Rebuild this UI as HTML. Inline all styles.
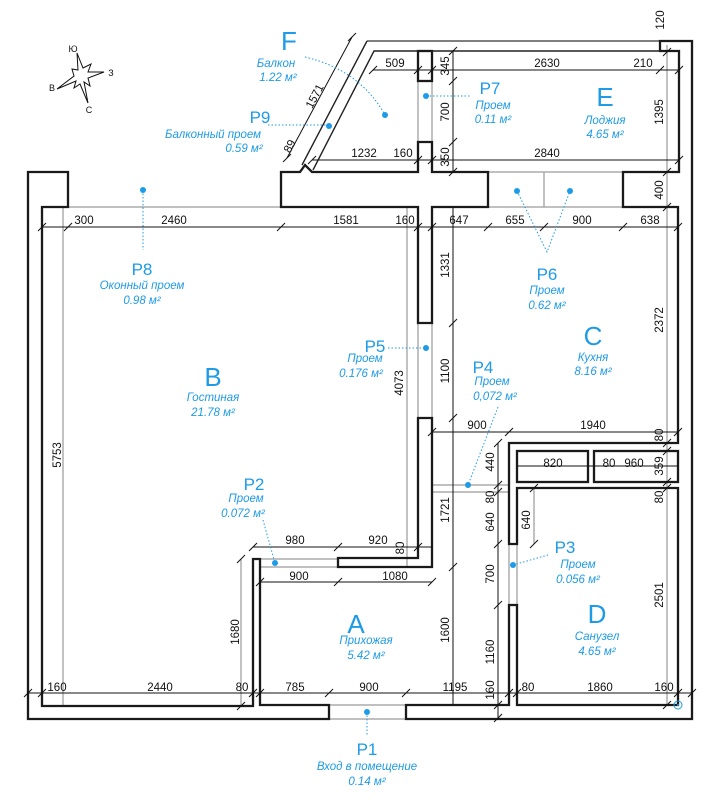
<!DOCTYPE html>
<html><head><meta charset="utf-8"><style>
html,body{margin:0;padding:0;background:#fff;}
svg{display:block;}
.w{fill:none;stroke:#1a1a1a;stroke-width:2.3;stroke-linejoin:miter;}
.g{fill:none;stroke:#9a9a9a;stroke-width:1.2;}
.d{fill:none;stroke:#111;stroke-width:1;}
.dm{font-family:"Liberation Sans",sans-serif;font-size:11.5px;fill:#111;text-anchor:middle;}
.bl{font-family:"Liberation Sans",sans-serif;fill:#1e9be6;text-anchor:middle;}
.big{font-size:26px;}
.p{font-size:17px;}
.it{font-size:11.5px;font-style:italic;}
.dot{fill:#1e9be6;}
.dl{fill:none;stroke:#1e9be6;stroke-width:1;stroke-dasharray:1.5 2;}
</style></head><body>
<svg width="722" height="807" viewBox="0 0 722 807" xmlns="http://www.w3.org/2000/svg">
<defs><path id="t" d="M-4,4 L4,-4" stroke="#111" stroke-width="1"/></defs>

<polygon points="77,53 83,68 91,64 88,72 104,72 88,78 90,86 84,82 88,103 80,84 74,88 76,81 57,89 74,76 72,69 78,70" fill="#fff" stroke="#111" stroke-width="1"/>
<text x="73" y="52" class="dm" style="font-size:9px">Ю</text>
<text x="111" y="76" class="dm" style="font-size:9px">З</text>
<text x="52" y="91" class="dm" style="font-size:9px">В</text>
<text x="89" y="113" class="dm" style="font-size:9px">С</text>

<path class="g" d="M68,207 H281 M488,172 H623 M488,207 H623 M544,172 V207 M418,81 V142 M432,81 V142 M418,323 V418 M432,323 V418 M260,559 H338 M260,567 H338 M329,705 H406 M329,719 H406 M509,544 V605 M517,544 V605 M432,485 H509 M432,492 H509 M667,45 V705 M63,207 V706 M407,207 V567 M241,559 V706 M534,488 V544"/>
<path d="M367,41 H660" stroke="#555" stroke-width="1.4" fill="none"/>

<polygon class="w" points="68,172 28,172 28,719 329,719 329,705 260,705 260,559 253,559 253,706 42,706 42,207 68,207"/>
<polygon class="w" points="406,719 406,705 509,705 509,605 517,605 517,705 678,705 678,488 517,488 517,544 509,544 509,443 678,443 678,207 623,207 623,172 679,172 679,51 660,51 660,41 692,41 692,719"/>
<polygon class="w" points="281,207 281,172 300,172 305,165 312,172 418,172 418,142 432,142 432,172 488,172 488,207 432,207 432,323 418,323 418,207"/>
<rect class="w" x="418" y="51" width="14" height="30"/>
<polygon class="w" points="418,418 432,418 432,567 338,567 338,558 418,558"/>
<rect class="w" x="517" y="451" width="71" height="31"/>
<rect class="w" x="594" y="451" width="84" height="31"/>
<path d="M302,165 L367,41 M313,170 L374,51 H418 M432,51 H660" stroke="#222" stroke-width="1.4" fill="none"/>

<path class="d" d="M42,227 H678 M373,70 H679 M312,160 H679 M453,51 V172 M453,207 V705 M287,158 L352,37 M253,547 H432 M260,582 H432 M28,693 H692 M498,443 V718 M432,432 H678 M517,466 H678"/>
<g>
<use href="#t" x="42" y="227"/><use href="#t" x="68" y="227"/><use href="#t" x="281" y="227"/><use href="#t" x="418" y="227"/><use href="#t" x="432" y="227"/><use href="#t" x="488" y="227"/><use href="#t" x="544" y="227"/><use href="#t" x="623" y="227"/><use href="#t" x="678" y="227"/>
<use href="#t" x="373" y="70"/><use href="#t" x="418" y="70"/><use href="#t" x="432" y="70"/><use href="#t" x="660" y="70"/><use href="#t" x="679" y="70"/>
<use href="#t" x="312" y="160"/><use href="#t" x="418" y="160"/><use href="#t" x="432" y="160"/><use href="#t" x="679" y="160"/>
<use href="#t" x="453" y="51"/><use href="#t" x="453" y="81"/><use href="#t" x="453" y="142"/><use href="#t" x="453" y="172"/>
<use href="#t" x="453" y="323"/><use href="#t" x="453" y="418"/><use href="#t" x="453" y="567"/>
<use href="#t" x="667" y="52"/><use href="#t" x="667" y="172"/><use href="#t" x="667" y="207"/><use href="#t" x="667" y="443"/><use href="#t" x="667" y="451"/><use href="#t" x="667" y="482"/><use href="#t" x="667" y="488"/><use href="#t" x="667" y="705"/>
<use href="#t" x="253" y="547"/><use href="#t" x="338" y="547"/><use href="#t" x="418" y="547"/>
<use href="#t" x="260" y="582"/><use href="#t" x="338" y="582"/><use href="#t" x="432" y="582"/>
<use href="#t" x="28" y="693"/><use href="#t" x="42" y="693"/><use href="#t" x="253" y="693"/><use href="#t" x="260" y="693"/><use href="#t" x="329" y="693"/><use href="#t" x="406" y="693"/><use href="#t" x="509" y="693"/><use href="#t" x="517" y="693"/><use href="#t" x="678" y="693"/><use href="#t" x="692" y="693"/>
<use href="#t" x="498" y="443"/><use href="#t" x="498" y="485"/><use href="#t" x="498" y="492"/><use href="#t" x="498" y="544"/><use href="#t" x="498" y="605"/><use href="#t" x="498" y="705"/><use href="#t" x="498" y="718"/>
<use href="#t" x="432" y="432"/><use href="#t" x="509" y="432"/><use href="#t" x="678" y="432"/>
<use href="#t" x="241" y="559"/><use href="#t" x="241" y="706"/>
<use href="#t" x="534" y="488"/><use href="#t" x="534" y="544"/>
<use href="#t" x="287" y="158"/><use href="#t" x="352" y="37"/>
</g>
<circle cx="678" cy="705" r="4" fill="none" stroke="#1e9be6" stroke-width="1"/><circle cx="678" cy="705" r="1" fill="#1e9be6"/>

<g class="dm">
<text x="84" y="224">300</text><text x="174" y="224">2460</text><text x="346" y="224">1581</text><text x="405" y="224">160</text><text x="459" y="224">647</text><text x="515" y="224">655</text><text x="582" y="224">900</text><text x="650" y="224">638</text>
<text x="395" y="67">509</text><text x="547" y="67">2630</text><text x="643" y="67">210</text>
<text x="364" y="157">1232</text><text x="403" y="157">160</text><text x="547" y="157">2840</text>
<text x="295" y="544">980</text><text x="378" y="544">920</text>
<text x="299" y="580">900</text><text x="395" y="580">1080</text>
<text x="57" y="691">160</text><text x="160" y="691">2440</text><text x="242" y="691">80</text><text x="295" y="691">785</text><text x="369" y="691">900</text><text x="455" y="691">1195</text><text x="528" y="691">80</text><text x="600" y="691">1860</text><text x="664" y="691">160</text>
<text x="477" y="429">900</text><text x="593" y="429">1940</text>
<text x="553" y="467">820</text><text x="609" y="467">80</text><text x="634" y="467">960</text>
</g>
<g class="dm">
<text transform="translate(449,66) rotate(-90)">345</text>
<text transform="translate(449,112) rotate(-90)">700</text>
<text transform="translate(449,157) rotate(-90)">350</text>
<text transform="translate(449,265) rotate(-90)">1331</text>
<text transform="translate(449,371) rotate(-90)">1100</text>
<text transform="translate(449,510) rotate(-90)">1721</text>
<text transform="translate(449,630) rotate(-90)">1600</text>
<text transform="translate(403,383) rotate(-90)">4073</text>
<text transform="translate(61,455) rotate(-90)">5753</text>
<text transform="translate(239,632) rotate(-90)">1680</text>
<text transform="translate(404,548) rotate(-90)">80</text>
<text transform="translate(663,112) rotate(-90)">1395</text>
<text transform="translate(663,190) rotate(-90)">400</text>
<text transform="translate(664,20) rotate(-90)">120</text>
<text transform="translate(663,320) rotate(-90)">2372</text>
<text transform="translate(663,435) rotate(-90)">80</text>
<text transform="translate(663,466) rotate(-90)">359</text>
<text transform="translate(663,497) rotate(-90)">80</text>
<text transform="translate(663,595) rotate(-90)">2501</text>
<text transform="translate(494,462) rotate(-90)">440</text>
<text transform="translate(494,497) rotate(-90)">80</text>
<text transform="translate(494,522) rotate(-90)">640</text>
<text transform="translate(494,574) rotate(-90)">700</text>
<text transform="translate(494,652) rotate(-90)">1160</text>
<text transform="translate(494,690) rotate(-90)">160</text>
<text transform="translate(530,520) rotate(-90)">640</text>
<text transform="translate(318,98) rotate(-62)">1571</text>
<text transform="translate(293,148) rotate(-62)">89</text>
</g>

<path class="dl" d="M305,57 Q360,70 385,115 M268,125 H329 M426,96 H470 M143,190 V250 M517,191 L547,252 L570,191 M388,348 H426 M498,407 L468,485 M263,520 L275,563 M513,565 L548,555 M367,712 V735"/>
<g class="dot">
<circle cx="385" cy="115" r="3"/><circle cx="329" cy="126" r="3"/><circle cx="426" cy="96" r="3"/><circle cx="143" cy="190" r="3"/><circle cx="517" cy="191" r="3"/><circle cx="570" cy="191" r="3"/><circle cx="426" cy="348" r="3"/><circle cx="468" cy="485" r="3"/><circle cx="275" cy="563" r="3"/><circle cx="513" cy="565" r="3"/><circle cx="367" cy="712" r="3"/>
</g>

<g class="bl">
<text x="289" y="50" class="big">F</text><text x="276" y="67" class="it">Балкон</text><text x="278" y="81" class="it">1.22 м²</text>
<text x="260" y="123" class="p">P9</text><text x="213" y="138" class="it">Балконный проем</text><text x="244" y="152" class="it">0.59 м²</text>
<text x="490" y="94" class="p">P7</text><text x="493" y="109" class="it">Проем</text><text x="493" y="123" class="it">0.11 м²</text>
<text x="605" y="106" class="big">E</text><text x="605" y="124" class="it">Лоджия</text><text x="605" y="138" class="it">4.65 м²</text>
<text x="142" y="275" class="p">P8</text><text x="142" y="289" class="it">Оконный проем</text><text x="142" y="304" class="it">0.98 м²</text>
<text x="547" y="280" class="p">P6</text><text x="547" y="294" class="it">Проем</text><text x="547" y="309" class="it">0.62 м²</text>
<text x="213" y="386" class="big">B</text><text x="213" y="401" class="it">Гостиная</text><text x="213" y="416" class="it">21.78 м²</text>
<text x="375" y="352" class="p">P5</text><text x="365" y="362" class="it">Проем</text><text x="361" y="377" class="it">0.176 м²</text>
<text x="593" y="345" class="big">C</text><text x="593" y="361" class="it">Кухня</text><text x="593" y="375" class="it">8.16 м²</text>
<text x="483" y="373" class="p">P4</text><text x="492" y="385" class="it">Проем</text><text x="495" y="400" class="it">0,072 м²</text>
<text x="254" y="490" class="p">P2</text><text x="246" y="502" class="it">Проем</text><text x="243" y="517" class="it">0.072 м²</text>
<text x="565" y="553" class="p">P3</text><text x="578" y="568" class="it">Проем</text><text x="578" y="583" class="it">0.056 м²</text>
<text x="597" y="623" class="big">D</text><text x="597" y="640" class="it">Санузел</text><text x="597" y="655" class="it">4.65 м²</text>
<text x="356" y="633" class="big">A</text><text x="366" y="644" class="it">Прихожая</text><text x="366" y="659" class="it">5.42 м²</text>
<text x="367" y="755" class="p">P1</text><text x="367" y="770" class="it">Вход в помещение</text><text x="367" y="785" class="it">0.14 м²</text>
</g>
</svg>
</body></html>
